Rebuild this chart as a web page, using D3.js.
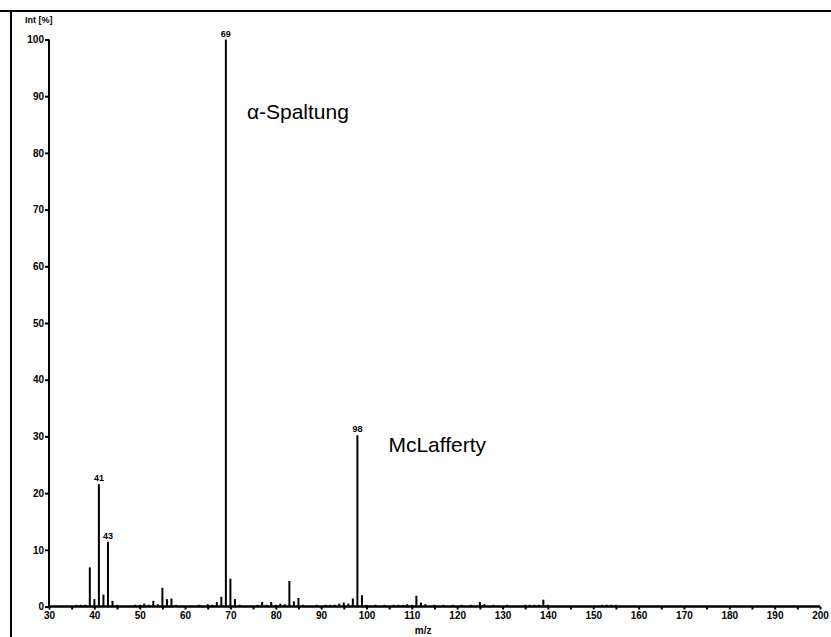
<!DOCTYPE html>
<html>
<head>
<meta charset="utf-8">
<script src="https://cdn.jsdelivr.net/npm/d3@7"></script>
<style>
  html, body { margin: 0; padding: 0; background: #fff; }
  svg { display: block; }
  .tick text { font-family: "Liberation Sans", Arial, sans-serif; font-weight: bold; font-size: 10px; fill: #000; }
</style>
</head>
<body>
<svg id="chart" width="831" height="637"></svg>
<script>
// ---- data ----
const mz = [36,37,38,39,40,41,42,43,44,45,49,50,51,52,53,54,55,56,57,58,63,65,66,67,68,69,70,71,72,
            76,77,78,79,80,81,82,83,84,85,86,89,91,92,93,94,95,96,97,98,99,100,102,104,106,107,108,109,110,
            111,112,113,115,117,119,121,123,125,126,128,131,135,136,137,138,139,140,152,153,154,155];
const intensity = [0.3,0.3,0.3,6.9,1.3,21.6,2.1,11.4,1.0,0.3,0.3,0.3,0.5,0.3,1.0,0.4,3.3,1.3,1.4,0.3,0.3,0.4,0.3,0.8,1.7,100,4.9,1.3,0.3,
            0.3,0.8,0.3,0.8,0.3,0.5,0.4,4.5,0.9,1.5,0.3,0.3,0.3,0.3,0.3,0.5,0.7,0.5,1.4,30.2,2.0,0.3,0.3,0.3,0.3,0.3,0.3,0.4,0.3,
            1.9,0.7,0.4,0.3,0.3,0.3,0.3,0.3,0.8,0.4,0.3,0.3,0.3,0.3,0.3,0.3,1.2,0.3,0.3,0.3,0.3,0.3];
const labeledPeaks = [41, 43, 69, 98];
const xTicksMajor = [30,40,50,60,70,80,90,100,110,120,130,140,150,160,170,180,190,200];
const xTicksMinor = [35,45,55,65,75,85,95,105,115,125,135,145,155,165,175,185,195];
const yTicks = [0,10,20,30,40,50,60,70,80,90,100];
const yAxisTitle = "Int [%]";
const xAxisTitle = "m/z";
const annotationTexts = ["α-Spaltung", "McLafferty"];
const annotationPeaks = [69, 98];
const annotationLevels = [86, 27.2];

// ---- chart ----
const svg = d3.select("#chart");
const x = d3.scaleLinear().domain([30, 200]).range([49, 820]);
const y = d3.scaleLinear().domain([0, 100]).range([606.5, 39.5]);
const FONT = "Liberation Sans, Arial, sans-serif";

// frame lines
svg.append("line").attr("x1", 0).attr("x2", 831).attr("y1", 11).attr("y2", 11)
  .attr("stroke", "#000").attr("stroke-width", 2);
svg.append("line").attr("x1", 11).attr("x2", 11).attr("y1", 10).attr("y2", 637)
  .attr("stroke", "#000").attr("stroke-width", 2);

// bars
const data = mz.map((m, i) => ({ mz: m, v: intensity[i] }));
svg.append("g").selectAll("line").data(data).join("line")
  .attr("x1", d => x(d.mz)).attr("x2", d => x(d.mz))
  .attr("y1", y(0)).attr("y2", d => y(d.v))
  .attr("stroke", "#000").attr("stroke-width", 2);

// x axis
const xAxisMinor = d3.axisBottom(x).tickValues(xTicksMinor).tickSize(3).tickFormat("");
const xAxis = d3.axisBottom(x).tickValues(xTicksMajor).tickSize(3).tickPadding(2).tickFormat(d3.format("d"));
const gxm = svg.append("g").attr("transform", `translate(0,${y(0)})`).call(xAxisMinor);
const gx = svg.append("g").attr("transform", `translate(0,${y(0)})`).call(xAxis);
[gx, gxm].forEach(g => {
  g.select(".domain").attr("stroke", "#000").attr("stroke-width", 2).attr("d", `M${x(30)},0H${x(200)}`);
  g.selectAll(".tick line").attr("stroke", "#000").attr("stroke-width", 2);
});

// y axis
const yAxis = d3.axisLeft(y).tickValues(yTicks).tickSize(4).tickPadding(1).tickFormat(d3.format("d"));
const gy = svg.append("g").attr("transform", `translate(${x(30)},0)`).call(yAxis);
gy.select(".domain").attr("stroke", "#000").attr("stroke-width", 2).attr("d", `M0,${y(100)}V${y(0)}`);
gy.selectAll(".tick line").attr("stroke", "#000").attr("stroke-width", 2);

// axis titles
svg.append("text").attr("x", 25).attr("y", 23).text(yAxisTitle)
  .attr("font-family", FONT).attr("font-weight", "bold").attr("font-size", 9);
svg.append("text").attr("x", x(112.5)).attr("y", 634).attr("text-anchor", "middle").text(xAxisTitle)
  .attr("font-family", FONT).attr("font-weight", "bold").attr("font-size", 10);

// peak labels
svg.append("g").selectAll("text").data(data.filter(d => labeledPeaks.includes(d.mz))).join("text")
  .attr("x", d => x(d.mz)).attr("y", d => y(d.v) - 3)
  .attr("text-anchor", "middle")
  .attr("font-family", FONT).attr("font-weight", "bold").attr("font-size", 9)
  .text(d => d.mz);

// annotations
const annotDx = [21, 31];
svg.append("g").selectAll("text").data(annotationTexts).join("text")
  .attr("x", (d, i) => x(annotationPeaks[i]) + annotDx[i])
  .attr("y", (d, i) => y(annotationLevels[i]))
  .attr("font-family", FONT).attr("font-size", 21)
  .text(d => d);
</script>
</body>
</html>
